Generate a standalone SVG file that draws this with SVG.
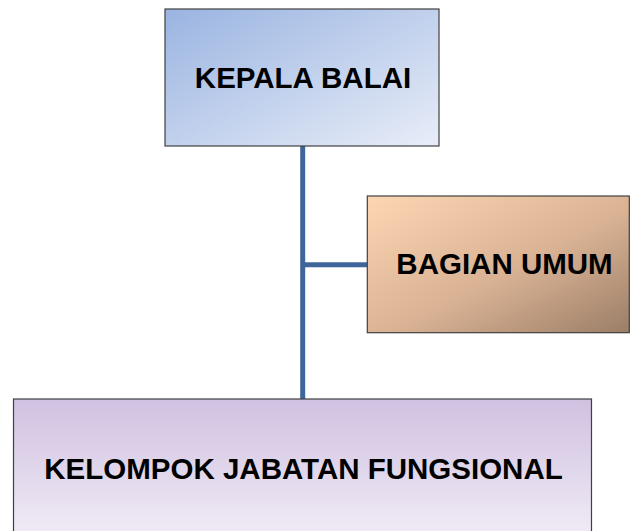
<svg xmlns="http://www.w3.org/2000/svg" width="630" height="531" viewBox="0 0 630 531">
<defs>
<linearGradient id="gBlue" x1="0" y1="0" x2="1" y2="1">
<stop offset="0" stop-color="#9ab4e1"/>
<stop offset="1" stop-color="#e8edf8"/>
</linearGradient>
<linearGradient id="gTan" x1="0" y1="0" x2="1" y2="1">
<stop offset="0" stop-color="#fdd6b4"/>
<stop offset="0.55" stop-color="#d9b294"/>
<stop offset="1" stop-color="#9b7e67"/>
</linearGradient>
<linearGradient id="gPurple" x1="0" y1="0" x2="0" y2="1">
<stop offset="0" stop-color="#d0c1e1"/>
<stop offset="1" stop-color="#f1ecf6"/>
</linearGradient>
<style>
.box{stroke:#404040;stroke-width:1.2}
.lbl{font-family:"Liberation Sans",Arial,sans-serif;font-weight:bold;font-size:29.5px;fill:#000;text-anchor:middle}
.conn{stroke:#3f669a;stroke-width:5;fill:none}
</style>
</defs>
<g id="connectors">
<line class="conn" x1="302.7" y1="146" x2="302.7" y2="399"/>
<line class="conn" x1="302.7" y1="264.7" x2="367" y2="264.7"/>
</g>
<g id="kepala-balai">
<rect class="box" x="165" y="9" width="274" height="137" fill="url(#gBlue)"/>
<text class="lbl" x="303" y="87.5">KEPALA BALAI</text>
</g>
<g id="bagian-umum">
<rect class="box" x="367.3" y="196" width="262" height="136.7" fill="url(#gTan)"/>
<text class="lbl" x="504.5" y="273.5">BAGIAN UMUM</text>
</g>
<g id="kelompok-jabatan-fungsional">
<rect class="box" x="13.5" y="399" width="578" height="140" fill="url(#gPurple)"/>
<text class="lbl" x="303.5" y="478.5">KELOMPOK JABATAN FUNGSIONAL</text>
</g>
</svg>
